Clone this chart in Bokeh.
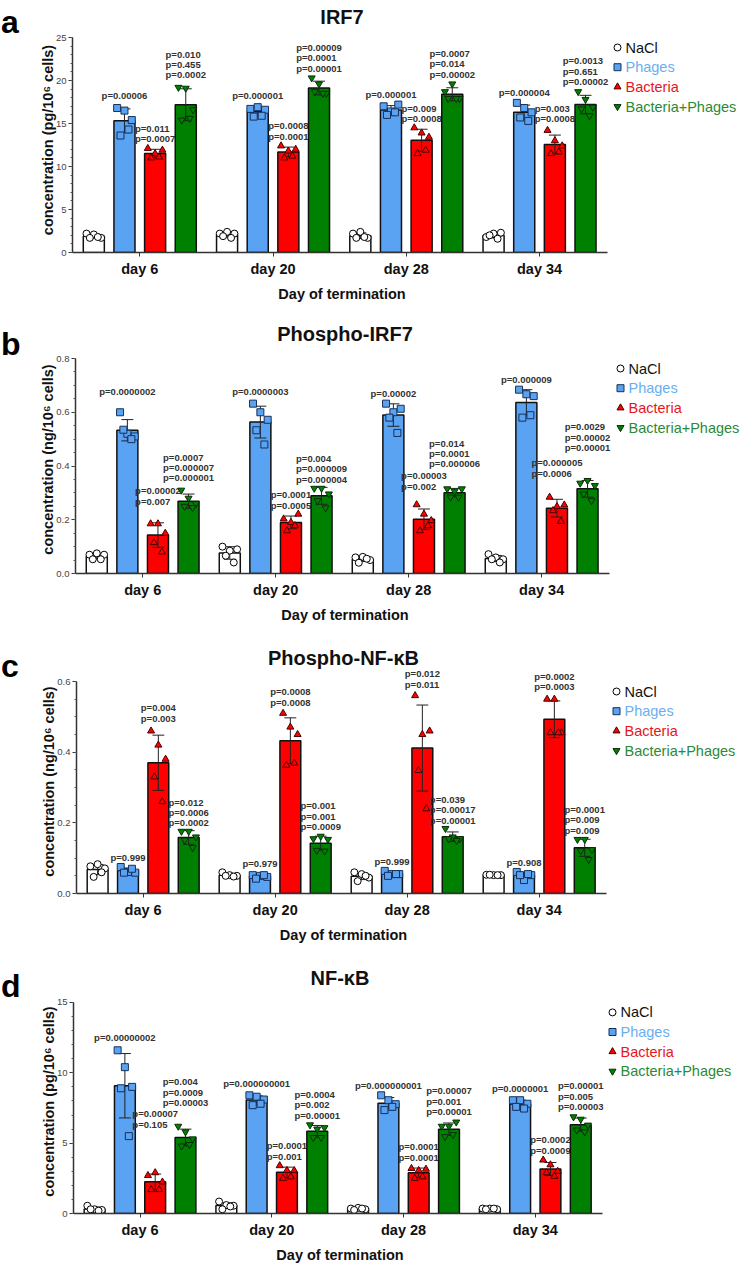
import numpy as np
from bokeh.plotting import figure
from bokeh.layouts import column, row
from bokeh.models import Range1d, FixedTicker, NumeralTickFormatter, Div
from bokeh.core.properties import value
from bokeh.embed import file_html
from bokeh.resources import INLINE

# ---------------- data ----------------
days = ["day 6", "day 20", "day 28", "day 34"]
groups = ["NaCl", "Phages", "Bacteria", "Bacteria+Phages"]

# a: IRF7 (pg/10^6 cells) - five animals per bar
irf7_nacl = [[2.2, 2.1, 1.7, 1.7, 1.8], [2.2, 2.4, 2.2, 1.9, 1.7], [2.2, 2.4, 1.7, 1.7, 1.8], [1.8, 2.2, 2.3, 2.0, 1.6]]
irf7_phages = [[16.8, 16.5, 15.4, 13.6, 14.3], [16.7, 16.9, 16.6, 15.8, 15.9], [17.0, 16.4, 17.2, 16.0, 16.3], [17.4, 16.8, 16.3, 15.7, 15.3]]
irf7_bacteria = [[12.1, 11.5, 11.9, 11.0, 11.1], [12.4, 11.8, 12.0, 11.0, 11.2], [14.5, 13.9, 13.4, 11.5, 11.9], [14.2, 13.0, 12.4, 11.5, 11.7]]
irf7_combo = [[19.2, 19.1, 16.6, 15.4, 15.6], [20.3, 19.6, 18.5, 18.7, 18.5], [18.7, 19.6, 17.9, 17.9, 17.9], [18.7, 17.8, 16.9, 16.7, 15.9]]
irf7_p_phages = [["p=0.00006"], ["p=0.000001"], ["p=0.000001"], ["p=0.000004"]]
irf7_p_bacteria = [["p=0.011", "p=0.0007"], ["p=0.0008", "p=0.0001"], ["p=0.009", "p=0.0008"], ["p=0.003", "p=0.0008"]]
irf7_p_combo = [["p=0.010", "p=0.455", "p=0.0002"], ["p=0.00009", "p=0.0001", "p=0.00001"],
                ["p=0.0007", "p=0.014", "p=0.00002"], ["p=0.0013", "p=0.651", "p=0.00002"]]
irf7_p_height = [[17.6, 17.6, 17.7, 18.0], [12.6, 12.9, 14.9, 14.9], [20.0, 20.8, 20.1, 19.2]]

# b: Phospho-IRF7 (ng/10^6 cells)
pirf7_nacl = [[0.07, 0.075, 0.07, 0.053, 0.053], [0.10, 0.085, 0.09, 0.066, 0.041], [0.06, 0.062, 0.05, 0.04, 0.055], [0.072, 0.06, 0.053, 0.053, 0.041]]
pirf7_phages = [[0.60, 0.52, 0.51, 0.535, 0.50], [0.632, 0.60, 0.572, 0.533, 0.48], [0.632, 0.60, 0.613, 0.58, 0.523], [0.684, 0.667, 0.66, 0.58, 0.589]]
pirf7_bacteria = [[0.185, 0.185, 0.15, 0.115, 0.08], [0.203, 0.19, 0.221, 0.159, 0.178], [0.256, 0.221, 0.197, 0.159, 0.178], [0.284, 0.249, 0.255, 0.234, 0.194]]
pirf7_combo = [[0.31, 0.28, 0.26, 0.25, 0.245], [0.317, 0.317, 0.296, 0.271, 0.244], [0.315, 0.306, 0.315, 0.284, 0.284], [0.336, 0.346, 0.327, 0.296, 0.271]]
pirf7_p_phages = [["p=0.0000002"], ["p=0.0000003"], ["p=0.00002"], ["p=0.000009"]]
pirf7_p_bacteria = [["p=0.00002", "p=0.007"], ["p=0.0001", "p=0.0005"], ["p=0.00003", "p=0.002"], ["p=0.000005", "p=0.0006"]]
pirf7_p_combo = [["p=0.0007", "p=0.000007", "p=0.000001"], ["p=0.004", "p=0.000009", "p=0.000004"],
                 ["p=0.014", "p=0.0001", "p=0.000006"], ["p=0.0029", "p=0.00002", "p=0.00001"]]
pirf7_p_height = [[0.655, 0.655, 0.651, 0.70], [0.249, 0.234, 0.305, 0.353], [0.335, 0.331, 0.387, 0.447]]

# c: Phospho-NF-kB (ng/10^6 cells)
pnfkb_nacl = [[0.077, 0.083, 0.071, 0.047, 0.06], [0.06, 0.052, 0.05, 0.05, 0.048], [0.06, 0.055, 0.045, 0.035, 0.05], [0.053, 0.052, 0.052, 0.053, 0.052]]
pnfkb_phages = [[0.075, 0.061, 0.059, 0.059, 0.07], [0.052, 0.05, 0.047, 0.042, 0.052], [0.064, 0.055, 0.055, 0.05, 0.055], [0.061, 0.038, 0.052, 0.052, 0.055]]
pnfkb_bacteria = [[0.46, 0.42, 0.38, 0.33, 0.26], [0.51, 0.471, 0.45, 0.363, 0.369], [0.56, 0.45, 0.46, 0.348, 0.24], [0.55, 0.55, 0.455, 0.455, 0.455]]
pnfkb_combo = [[0.176, 0.176, 0.16, 0.151, 0.13], [0.155, 0.162, 0.153, 0.122, 0.12], [0.184, 0.16, 0.155, 0.155, 0.15], [0.153, 0.153, 0.124, 0.121, 0.096]]
pnfkb_p_phages = [["p=0.999"], ["p=0.979"], ["p=0.999"], ["p=0.908"]]
pnfkb_p_bacteria = [["p=0.004", "p=0.003"], ["p=0.0008", "p=0.0008"], ["p=0.012", "p=0.011"], ["p=0.0002", "p=0.0003"]]
pnfkb_p_combo = [["p=0.012", "p=0.0006", "p=0.0002"], ["p=0.001", "p=0.001", "p=0.0009"],
                 ["p=0.039", "p=0.00017", "p=0.00001"], ["p=0.0001", "p=0.009", "p=0.009"]]
pnfkb_p_height = [[0.085, 0.068, 0.076, 0.071], [0.481, 0.526, 0.577, 0.569], [0.184, 0.173, 0.192, 0.164]]

# d: NF-kB (pg/10^6 cells)
nfkb_nacl = [[0.55, 0.3, 0.25, 0.3, 0.2], [0.85, 0.6, 0.55, 0.3, 0.5], [0.35, 0.4, 0.3, 0.25, 0.35], [0.35, 0.35, 0.3, 0.3, 0.35]]
nfkb_phages = [[11.6, 10.4, 9.0, 8.9, 5.5], [8.4, 8.3, 8.1, 7.7, 7.8], [8.4, 8.05, 7.77, 7.35, 7.58], [8.05, 8.05, 7.8, 7.58, 7.46]]
nfkb_bacteria = [[2.7, 2.9, 2.24, 1.7, 1.7], [3.4, 3.06, 3.06, 2.5, 2.6], [3.2, 3.06, 3.15, 2.5, 2.6], [3.8, 3.46, 3.0, 2.9, 2.64]]
nfkb_combo = [[6.2, 5.8, 5.3, 4.8, 4.9], [6.3, 6.0, 6.1, 5.4, 5.4], [6.2, 6.2, 6.5, 5.46, 5.6], [6.87, 6.7, 6.28, 5.93, 5.8]]
nfkb_p_phages = [["p=0.00000002"], ["p=0.000000001"], ["p=0.000000001"], ["p=0.0000001"]]
nfkb_p_bacteria = [["p=0.00007", "p=0.105"], ["p=0.0001", "p=0.001"], ["p=0.0001", "p=0.0001"], ["p=0.0002", "p=0.0009"]]
nfkb_p_combo = [["p=0.004", "p=0.0009", "p=0.00003"], ["p=0.0004", "p=0.002", "p=0.00001"],
                ["p=0.00007", "p=0.001", "p=0.00001"], ["p=0.00001", "p=0.005", "p=0.00003"]]
nfkb_p_height = [[12.1, 8.85, 8.7, 8.5], [5.94, 3.68, 3.6, 4.1], [7.5, 6.58, 6.86, 7.2]]

# ---------------- style ----------------
FONT = "Liberation Sans"
FILL = ["#ffffff", "#5aa2f2", "#ff0000", "#008000"]
EDGE = ["#000000", "#16305a", "#4a0000", "#0a2e0a"]
MARK = ["circle", "square", "triangle", "inverted_triangle"]
LEGTXT = ["#111111", "#6aaef2", "#e8151c", "#2b8a36"]
OFFSET = [-0.345, -0.115, 0.115, 0.345]
BAR_W = 0.158
JIT = [-0.055, 0.0, 0.055, -0.03, 0.03]
CAP = 0.045
X0, X1 = -0.505, 3.51
LETTER_W = 30
TOTAL_W = 748

panels = [
    dict(letter="a", title="IRF7", ylabel="concentration (pg/10\u2076 cells)", yend=25, step=5, minor=5, fmt="0",
         vals=[irf7_nacl, irf7_phages, irf7_bacteria, irf7_combo],
         plab=[irf7_p_phages, irf7_p_bacteria, irf7_p_combo], ph=irf7_p_height,
         fig_h=316, ft=37, fh=215, head=10, stand=0, fl=72, fr=607, mx=617, lt=6),
    dict(letter="b", title="Phospho-IRF7", ylabel="concentration (ng/10\u2076 cells)", yend=0.8, step=0.2, minor=4, fmt="0.0",
         vals=[pirf7_nacl, pirf7_phages, pirf7_bacteria, pirf7_combo],
         plab=[pirf7_p_phages, pirf7_p_bacteria, pirf7_p_combo], ph=pirf7_p_height,
         fig_h=320, ft=42, fh=215, head=13, stand=1, fl=75, fr=609, mx=620, lt=12),
    dict(letter="c", title="Phospho-NF-\u03baB", ylabel="concentration (ng/10\u2076 cells)", yend=0.6, step=0.2, minor=4, fmt="0.0",
         vals=[pnfkb_nacl, pnfkb_phages, pnfkb_bacteria, pnfkb_combo],
         plab=[pnfkb_p_phages, pnfkb_p_bacteria, pnfkb_p_combo], ph=pnfkb_p_height,
         fig_h=322, ft=45, fh=212, head=12, stand=1, fl=76, fr=606, mx=616, lt=14),
    dict(letter="d", title="NF-\u03baB", ylabel="concentration (pg/10\u2076 cells)", yend=15, step=5, minor=5, fmt="0",
         vals=[nfkb_nacl, nfkb_phages, nfkb_bacteria, nfkb_combo],
         plab=[nfkb_p_phages, nfkb_p_bacteria, nfkb_p_combo], ph=nfkb_p_height,
         fig_h=307, ft=44, fh=212, head=13, stand=1, fl=73, fr=602, mx=612, lt=12),
]


def build(spec):
    fig_h, ft, fh, fl, fr, head = spec["fig_h"], spec["ft"], spec["fh"], spec["fl"], spec["fr"], spec["head"]
    yend, step = spec["yend"], spec["step"]
    leg_x0 = spec["mx"] - 6               # canvas x where the legend strip starts
    ppy = fh / yend                        # pixels per y unit
    ppx = (fr - fl) / (X1 - X0)            # pixels per x unit
    ytop = yend + head / ppy
    xright = X1 + (leg_x0 - fr) / ppx
    p = figure(width=leg_x0 - LETTER_W, height=fig_h, output_backend="svg", toolbar_location=None,
               x_range=Range1d(X0, xright), y_range=Range1d(0, ytop),
               min_border_left=fl - LETTER_W, min_border_right=0,
               min_border_top=ft - head, min_border_bottom=fig_h - ft - fh, title=spec["title"])
    p.outline_line_color = None
    p.grid.visible = False
    p.title.align = "center"
    p.title.text_font = FONT
    p.title.text_font_size = "20px"
    p.title.text_font_style = "bold"
    p.title.text_color = "#111111"
    p.title.standoff = spec["stand"]

    xa = p.xaxis[0]
    xa.bounds = (X0, X1)
    xa.ticker = FixedTicker(ticks=[0, 1, 2, 3])
    xa.major_label_overrides = {i: d for i, d in enumerate(days)}
    xa.axis_label = "Day of termination"
    xa.axis_label_text_font = FONT
    xa.axis_label_text_font_size = "14.5px"
    xa.axis_label_text_font_style = "bold"
    xa.axis_label_text_color = "#111111"
    xa.major_label_text_font = FONT
    xa.major_label_text_font_size = "14.5px"
    xa.major_label_text_font_style = "bold"
    xa.major_label_text_color = "#111111"
    xa.major_tick_out = 4
    xa.major_tick_in = 0
    xa.minor_tick_line_color = None
    xa.axis_line_width = 1.5
    xa.axis_line_color = "#333333"
    xa.major_tick_line_color = "#333333"
    xa.major_label_standoff = 4
    xa.axis_label_standoff = 6

    n_major = int(round(yend / step))
    major = [round(i * step, 6) for i in range(n_major + 1)]
    minor = [round(i * step / spec["minor"], 6) for i in range(n_major * spec["minor"] + 1)]
    ya = p.yaxis[0]
    ya.bounds = (0, yend)
    ya.ticker = FixedTicker(ticks=major, minor_ticks=minor)
    ya.formatter = NumeralTickFormatter(format=spec["fmt"])
    ya.axis_label = spec["ylabel"]
    ya.axis_label_text_font = FONT
    ya.axis_label_text_font_size = "14.5px"
    ya.axis_label_text_font_style = "bold"
    ya.axis_label_text_color = "#111111"
    ya.major_label_text_font = FONT
    ya.major_label_text_font_size = "9.5px"
    ya.major_label_text_color = "#444444"
    ya.major_tick_out = 4
    ya.major_tick_in = 0
    ya.minor_tick_out = 2
    ya.minor_tick_in = 0
    ya.axis_line_width = 1.5
    ya.axis_line_color = "#333333"
    ya.major_tick_line_color = "#333333"
    ya.minor_tick_line_color = "#555555"
    ya.major_label_standoff = 2
    ya.axis_label_standoff = -3

    for gi in range(4):
        pts = [np.array(v, dtype=float) for v in spec["vals"][gi]]
        xs = np.arange(4) + OFFSET[gi]
        means = np.array([v.mean() for v in pts])
        sds = np.array([v.std(ddof=1) for v in pts])
        p.vbar(x=xs, top=means, bottom=0, width=BAR_W, fill_color=FILL[gi],
               line_color="#111111", line_width=1.5)
        p.segment(x0=xs, y0=means - sds, x1=xs, y1=means + sds, line_color="#222222", line_width=1)
        for yy in (means + sds, means - sds):
            p.segment(x0=xs - CAP, y0=yy, x1=xs + CAP, y1=yy, line_color="#222222", line_width=1)
        px, py = [], []
        for di in range(4):
            for k, val in enumerate(pts[di]):
                px.append(xs[di] + JIT[k % len(JIT)])
                py.append(val)
        p.scatter(x=px, y=py, marker=MARK[gi], size=7, fill_color=FILL[gi],
                  line_color=EDGE[gi], line_width=1)
        if gi > 0:
            labs = spec["plab"][gi - 1]
            p.text(x=list(xs), y=spec["ph"][gi - 1], text=["\n".join(l) for l in labs],
                   anchor="bottom_center", text_align="left",
                   text_font=value(FONT), text_font_style="bold", text_font_size="9.5px",
                   text_color="#333333", text_line_height=0.95)

    # panel letter
    letter = Div(text=spec["letter"], width=LETTER_W, height=fig_h, margin=(0, 0, 0, 0),
                 styles={"font-family": "'Liberation Sans', Arial, sans-serif", "font-size": "32px",
                         "font-weight": "bold", "line-height": "32px", "color": "#000000",
                         "padding-top": "%dpx" % spec["lt"], "padding-left": "1px",
                         "box-sizing": "border-box"})

    # legend strip
    leg_w = TOTAL_W - leg_x0
    lg = figure(width=leg_w, height=fig_h, output_backend="svg", toolbar_location=None,
                x_range=Range1d(0, leg_w), y_range=Range1d(ft + fh, ft - head),
                x_axis_location=None, y_axis_location=None,
                min_border_left=0, min_border_right=0,
                min_border_top=ft - head, min_border_bottom=fig_h - ft - fh)
    lg.outline_line_color = None
    lg.grid.visible = False
    mx = spec["mx"] - leg_x0
    rows_y = [ft + 10 + 19.7 * i for i in range(4)]
    for gi in range(4):
        lg.scatter(x=[mx], y=[rows_y[gi]], marker=MARK[gi], size=7, fill_color=FILL[gi],
                   line_color=EDGE[gi], line_width=1)
    lg.text(x=[mx + 8] * 4, y=rows_y, text=groups, text_color=LEGTXT,
            text_font=value(FONT), text_font_size="14.5px",
            text_align="left", text_baseline="middle")
    return row(letter, p, lg)


layout = column(*[build(s) for s in panels])
open("out.html", "w").write(file_html(layout, INLINE))
